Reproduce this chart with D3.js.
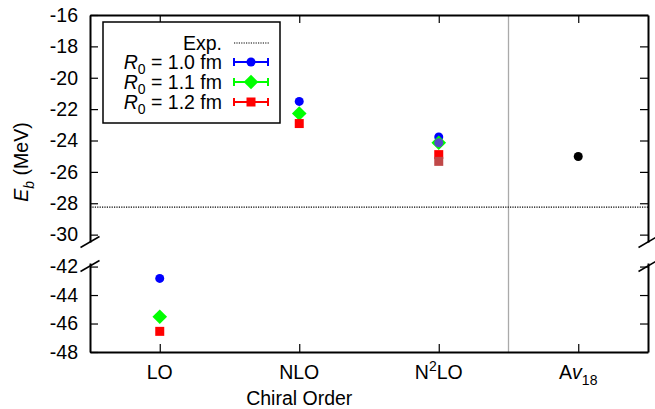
<!DOCTYPE html>
<html>
<head>
<meta charset="utf-8">
<script src="https://d3js.org/d3.v7.min.js"></script>
<style>
body { margin: 0; background: #fff; }
svg { font-family: "Liberation Sans", Arial, sans-serif; }
.axis path, .axis line { stroke: #000; }
</style>
</head>
<body>
<svg id="chart" width="655" height="409"></svg>
<script>
// chiral orders on the x axis
var orders = ["LO", "NLO", "N2LO", "Av18"];

// binding energies (MeV)
var r10 = [-42.83, -21.51, -23.77];
var r11 = [-45.52, -22.28, -24.14];
var r12 = [-46.55, -22.92, -24.90];
// second points at N2LO
var r10b = [null, null, -24.14];
var r12b = [null, null, -25.33];
var av18 = -25.02;
var expE = -28.25;

var topTicks = [-16, -18, -20, -22, -24, -26, -28, -30];
var botTicks = [-42, -44, -46, -48];

var FS = 19.5, SUB = 14;

var svg = d3.select("#chart");
var L = 90, R = 648, T = 15, B = 352;
var topEnd = 242, botStart = 263;

var x = d3.scaleLinear().domain([-0.5, 3.5]).range([L, R]);
var yTop = d3.scaleLinear().domain([-30.47, -16]).range([topEnd, T]);
var yBot = d3.scaleLinear().domain([-48, -41.75]).range([B, botStart]);

function yv(v) { return v < -35 ? yBot(v) : yTop(v); }
var fmt = function(d) { return String(d); };

// vertical separator before Av18
svg.append("line")
    .attr("x1", x(2.5)).attr("x2", x(2.5))
    .attr("y1", T).attr("y2", B)
    .attr("stroke", "#aaa").attr("stroke-width", 1.3);

// exp line
svg.append("line")
    .attr("x1", L).attr("x2", R)
    .attr("y1", yTop(expE)).attr("y2", yTop(expE))
    .attr("stroke", "#000").attr("stroke-width", 1.2)
    .attr("stroke-dasharray", "1.2,1.2");

// axes
svg.append("g").attr("class", "axis").attr("transform", "translate(" + L + ",0)")
    .call(d3.axisLeft(yTop).tickValues(topTicks).tickSize(-8).tickSizeOuter(0).tickPadding(12).tickFormat(fmt));
svg.append("g").attr("class", "axis").attr("transform", "translate(" + L + ",0)")
    .call(d3.axisLeft(yBot).tickValues(botTicks).tickSize(-8).tickSizeOuter(0).tickPadding(12).tickFormat(fmt));
svg.append("g").attr("class", "axis").attr("transform", "translate(" + R + ",0)")
    .call(d3.axisRight(yTop).tickValues(topTicks).tickSize(-8).tickSizeOuter(0).tickFormat(""));
svg.append("g").attr("class", "axis").attr("transform", "translate(" + R + ",0)")
    .call(d3.axisRight(yBot).tickValues(botTicks).tickSize(-8).tickSizeOuter(0).tickFormat(""));
svg.append("g").attr("class", "axis").attr("transform", "translate(0," + T + ")")
    .call(d3.axisTop(x).tickValues([0, 1, 2, 3]).tickSize(-8).tickSizeOuter(0).tickFormat(""));
svg.append("g").attr("class", "axis").attr("transform", "translate(0," + B + ")")
    .call(d3.axisBottom(x).tickValues([0, 1, 2, 3]).tickSize(-8).tickSizeOuter(0).tickFormat(""));
svg.selectAll(".axis path").attr("stroke-width", 2);
svg.selectAll(".axis line").attr("stroke-width", 1.2);
svg.selectAll(".axis text").attr("font-size", FS).attr("fill", "#000")
    .attr("font-family", "Liberation Sans, Arial, sans-serif");

// axis break marks
[L, R].forEach(function(ax) {
    [topEnd, botStart + 3].forEach(function(by) {
        svg.append("line")
            .attr("x1", ax - 9.5).attr("y1", by + 5.5)
            .attr("x2", ax + 9.5).attr("y2", by - 5.5)
            .attr("stroke", "#000").attr("stroke-width", 1.5);
    });
});

// x tick labels
orders.forEach(function(o, i) {
    var t = svg.append("text").attr("x", x(i)).attr("y", 379)
        .attr("text-anchor", "middle").attr("font-size", FS);
    if (o === "N2LO") {
        t.append("tspan").text("N");
        t.append("tspan").attr("dy", -8).attr("font-size", SUB).text("2");
        t.append("tspan").attr("dy", 8).text("LO");
    } else if (o === "Av18") {
        t.append("tspan").text("A");
        t.append("tspan").attr("font-style", "italic").text("v");
        t.append("tspan").attr("dy", 6).attr("font-size", SUB).text("18");
    } else {
        t.text(o);
    }
});

svg.append("text").attr("x", x(1)).attr("y", 405)
    .attr("text-anchor", "middle").attr("font-size", FS).text("Chiral Order");

var yl = svg.append("text").attr("transform", "translate(28,162) rotate(-90)")
    .attr("text-anchor", "middle").attr("font-size", FS);
yl.append("tspan").attr("font-style", "italic").text("E");
yl.append("tspan").attr("font-style", "italic").attr("dy", 6).attr("font-size", SUB).text("b");
yl.append("tspan").attr("dy", -6).text(" (MeV)");

// markers
var sym = {
    circle: d3.symbol().type(d3.symbolCircle).size(Math.PI * 4.5 * 4.5),
    diamond: function(s) { return "M0," + (-s) + "L" + s + ",0L0," + s + "L" + (-s) + ",0Z"; },
    square: d3.symbol().type(d3.symbolSquare).size(81)
};

function mark(kind, cx, cy, color) {
    var d = kind === "diamond" ? sym.diamond(7.3) : sym[kind]();
    svg.append("path").attr("d", d)
        .attr("transform", "translate(" + cx + "," + cy + ")")
        .attr("fill", color);
}

function series(vals, kind, color) {
    vals.forEach(function(v, i) {
        if (v !== null) mark(kind, x(i), yv(v), color);
    });
}

series(r10, "circle", "#0000ff");
series(r11, "diamond", "#00ff00");
series(r10b, "circle", "#5448c8");
series(r12, "square", "#ff0000");
series(r12b, "square", "#c04848");
mark("circle", x(3), yv(av18), "#000");

// legend
svg.append("rect").attr("x", 103).attr("y", 22).attr("width", 177).attr("height", 101)
    .attr("fill", "#fff").attr("stroke", "#000").attr("stroke-width", 1.5);

var legRows = [
    { label: "Exp.", y: 43 },
    { label: "1.0", y: 62, kind: "circle", color: "#0000ff" },
    { label: "1.1", y: 82, kind: "diamond", color: "#00ff00" },
    { label: "1.2", y: 102, kind: "square", color: "#ff0000" }
];
legRows.forEach(function(r) {
    var t = svg.append("text").attr("x", 222).attr("y", r.y + 7)
        .attr("text-anchor", "end").attr("font-size", FS);
    if (!r.kind) {
        t.text(r.label);
        svg.append("line").attr("x1", 234).attr("x2", 269).attr("y1", r.y).attr("y2", r.y)
            .attr("stroke", "#000").attr("stroke-width", 1.2).attr("stroke-dasharray", "1.2,1.2");
        return;
    }
    t.append("tspan").attr("font-style", "italic").text("R");
    t.append("tspan").attr("dy", 5).attr("font-size", SUB).text("0");
    t.append("tspan").attr("dy", -5).text(" = " + r.label + " fm");
    var g = svg.append("g").attr("stroke", r.color).attr("stroke-width", 2);
    g.append("line").attr("x1", 234).attr("x2", 268).attr("y1", r.y).attr("y2", r.y);
    g.append("line").attr("x1", 234).attr("x2", 234).attr("y1", r.y - 4).attr("y2", r.y + 4);
    g.append("line").attr("x1", 268).attr("x2", 268).attr("y1", r.y - 4).attr("y2", r.y + 4);
    mark(r.kind, 251, r.y, r.color);
});
</script>
</body>
</html>
